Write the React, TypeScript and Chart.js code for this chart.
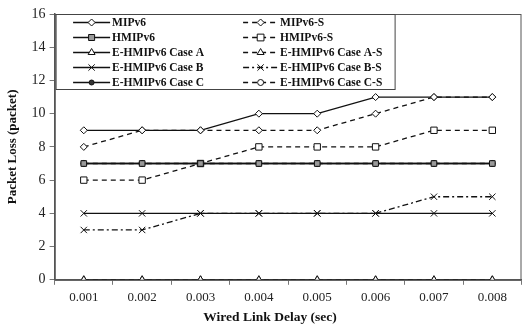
import React, { useEffect, useRef } from "react";
import { Chart, registerables } from "chart.js";

Chart.register(...registerables);

const categories = ["0.001", "0.002", "0.003", "0.004", "0.005", "0.006", "0.007", "0.008"];
const mipv6 = [9, 9, 9, 10, 10, 11, 11, 11];
const mipv6S = [8, 9, 9, 9, 9, 10, 11, 11];
const hmipv6 = [7, 7, 7, 7, 7, 7, 7, 7];
const hmipv6S = [6, 6, 7, 8, 8, 8, 9, 9];
const caseA = [0, 0, 0, 0, 0, 0, 0, 0];
const caseAS = [0, 0, 0, 0, 0, 0, 0, 0];
const caseB = [4, 4, 4, 4, 4, 4, 4, 4];
const caseBS = [3, 3, 4, 4, 4, 4, 5, 5];
const caseC = [7, 7, 7, 7, 7, 7, 7, 7];
const caseCS = [7, 7, 7, 7, 7, 7, 7, 7];
const yTicks = [0, 2, 4, 6, 8, 10, 12, 14, 16];
const xTitle = "Wired Link Delay (sec)";
const yTitle = "Packet Loss (packet)";

const SERIF = "'Liberation Serif', 'DejaVu Serif', serif";

function drawMarker(ctx: CanvasRenderingContext2D, style: string, r: number, x: number, y: number) {
  ctx.beginPath();
  if (style === "rectRot") {
    ctx.moveTo(x, y - r);
    ctx.lineTo(x + r, y);
    ctx.lineTo(x, y + r);
    ctx.lineTo(x - r, y);
    ctx.closePath();
    ctx.fill();
    ctx.stroke();
  } else if (style === "rect") {
    const s = r * 0.75;
    ctx.rect(x - s, y - s, 2 * s, 2 * s);
    ctx.fill();
    ctx.stroke();
  } else if (style === "triangle") {
    ctx.moveTo(x, y - r);
    ctx.lineTo(x + r * 0.87, y + r * 0.5);
    ctx.lineTo(x - r * 0.87, y + r * 0.5);
    ctx.closePath();
    ctx.fill();
    ctx.stroke();
  } else if (style === "crossRot") {
    const s = r * 0.7;
    ctx.moveTo(x - s, y - s);
    ctx.lineTo(x + s, y + s);
    ctx.moveTo(x + s, y - s);
    ctx.lineTo(x - s, y + s);
    ctx.stroke();
  } else {
    ctx.arc(x, y, r, 0, Math.PI * 2);
    ctx.fill();
    ctx.stroke();
  }
}

const legendPlugin = {
  id: "customLegend",
  afterDraw(chart: any) {
    const ctx = chart.ctx;
    const area = chart.chartArea;
    ctx.save();
    ctx.strokeStyle = "#555";
    ctx.lineWidth = 1;
    ctx.strokeRect(area.left + 0.5, area.top + 0.5, area.right - area.left - 1, area.bottom - area.top);
    const bx = area.left + 1.5, by = area.top + 0.5, bw = 339, bh = 75;
    ctx.fillStyle = "#fff";
    ctx.fillRect(bx, by, bw, bh);
    ctx.strokeStyle = "#444";
    ctx.strokeRect(bx, by, bw, bh);
    const ds = chart.data.datasets;
    ds.forEach((d: any, i: number) => {
      const col = i % 2;
      const row = Math.floor(i / 2);
      const y = by + 8 + row * 15;
      const x0 = col === 0 ? bx + 17 : bx + 187;
      const x1 = col === 0 ? bx + 54 : bx + 222;
      ctx.strokeStyle = d.borderColor;
      ctx.lineWidth = d.borderWidth;
      ctx.setLineDash(d.borderDash || []);
      ctx.beginPath();
      ctx.moveTo(x0, y);
      ctx.lineTo(x1, y);
      ctx.stroke();
      ctx.setLineDash([]);
      ctx.fillStyle = d.pointBackgroundColor;
      ctx.strokeStyle = d.pointBorderColor;
      ctx.lineWidth = d.pointBorderWidth;
      drawMarker(ctx, d.pointStyle, d.pointRadius, (x0 + x1) / 2, y);
      ctx.fillStyle = "#111";
      ctx.font = "bold 11.5px " + SERIF;
      ctx.textBaseline = "middle";
      ctx.textAlign = "left";
      ctx.fillText(d.label, x1 + 2, y + 1);
    });
    // x title, slightly left of centre as in the source figure
    ctx.fillStyle = "#111";
    ctx.font = "bold 13.5px " + SERIF;
    ctx.textAlign = "center";
    ctx.textBaseline = "middle";
    ctx.fillText(xTitle, (area.left + area.right) / 2 - 18, 318);
    ctx.restore();
  },
};

export default function App() {
  const ref = useRef<HTMLCanvasElement>(null);
  useEffect(() => {
    document.body.style.margin = "0";
    const mk = (label: string, data: number[], style: string, dash: number[], fill: string, radius: number, width = 1.3) => ({
      label,
      data,
      borderColor: "#111",
      borderWidth: width,
      borderDash: dash,
      pointStyle: style,
      pointRadius: radius,
      pointBackgroundColor: fill,
      pointBorderColor: "#111",
      pointBorderWidth: 1,
      fill: false,
      tension: 0,
    });
    const dashed = [5, 4];
    const chart = new Chart(ref.current!, {
      type: "line",
      data: {
        labels: categories,
        datasets: [
          mk("MIPv6", mipv6, "rectRot", [], "#fff", 3.5),
          mk("MIPv6-S", mipv6S, "rectRot", dashed, "#fff", 3.5),
          mk("HMIPv6", hmipv6, "rect", [], "#999", 4),
          mk("HMIPv6-S", hmipv6S, "rect", dashed, "#fff", 4.5),
          mk("E-HMIPv6 Case A", caseA, "triangle", [], "#fff", 4),
          mk("E-HMIPv6 Case A-S", caseAS, "triangle", dashed, "#fff", 4),
          mk("E-HMIPv6 Case B", caseB, "crossRot", [], "#fff", 4.5),
          mk("E-HMIPv6 Case B-S", caseBS, "crossRot", [6, 3, 2, 3], "#fff", 4.5),
          mk("E-HMIPv6 Case C", caseC, "circle", [], "#333", 2.5),
          mk("E-HMIPv6 Case C-S", caseCS, "circle", dashed, "#fff", 3),
        ],
      },
      options: {
        animation: false,
        responsive: true,
        maintainAspectRatio: false,
        layout: { padding: { left: 5, right: 4, top: 14, bottom: 1 } },
        plugins: { legend: { display: false }, tooltip: { enabled: false } },
        scales: {
          x: {
            type: "category",
            offset: true,
            grid: { display: true, offset: true, drawOnChartArea: false, drawTicks: true, tickLength: 5, color: "#777" },
            border: { color: "#555", width: 1.5 },
            ticks: { color: "#222", font: { family: SERIF, size: 13 }, padding: 5, maxRotation: 0 },
            title: { display: true, text: xTitle, color: "rgba(0,0,0,0)", font: { family: SERIF, size: 13, weight: "bold" }, padding: { top: 0, bottom: 0 } },
          },
          y: {
            min: 0,
            max: 16,
            afterBuildTicks: (axis: any) => {
              axis.ticks = yTicks.map((v) => ({ value: v }));
            },
            grid: { display: true, drawOnChartArea: false, drawTicks: true, tickLength: 5, color: "#777" },
            border: { color: "#555", width: 1.5 },
            ticks: { color: "#222", font: { family: SERIF, size: 14 }, padding: 4 },
            title: { display: true, text: yTitle, color: "#111", font: { family: SERIF, size: 13, weight: "bold" }, padding: { top: 0, bottom: 7 } },
          },
        },
      },
      plugins: [legendPlugin],
    } as any);
    return () => chart.destroy();
  }, []);
  return (
    <div style={{ position: "fixed", left: 0, top: 0, width: 527, height: 327 }}>
      <canvas ref={ref} />
    </div>
  );
}
